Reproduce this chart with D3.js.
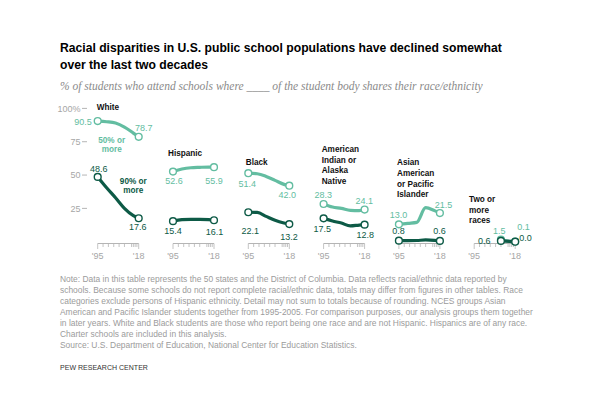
<!DOCTYPE html>
<html><head><meta charset="utf-8">
<script src="https://cdn.jsdelivr.net/npm/d3@7"></script>
<style>
html,body{margin:0;padding:0;background:#fff;}
svg{display:block;}
</style></head>
<body>
<svg id="chart" width="600" height="393"></svg>
<script>
// ---------------- data ----------------
const years = [1995, 2000, 2005, 2010, 2015, 2018];
const groups = ["White", "Hispanic", "Black", "American Indian or Alaska Native", "Asian American or Pacific Islander", "Two or more races"];
const groupTitleLines = [["White"], ["Hispanic"], ["Black"], ["American", "Indian or", "Alaska", "Native"], ["Asian", "American", "or Pacific", "Islander"], ["Two or", "more", "races"]];
// % of students in schools where 50% or more of the student body shares their race/ethnicity
const fiftyPlus = [
  [90.5, 90.0, 89.0, 86.0, 81.5, 78.7],
  [52.6, 54.5, 55.5, 55.8, 56.0, 55.9],
  [51.4, 51.0, 49.0, 46.0, 43.0, 42.0],
  [28.3, 26.0, 25.0, 23.5, 23.3, 24.1],
  [13.0, 13.8, 14.5, 25.5, 23.3, 21.5],
  [null, null, null, 1.5, 0.3, 0.1]
];
// % of students in schools where 90% or more of the student body shares their race/ethnicity
const ninetyPlus = [
  [48.6, 40.5, 33.0, 25.0, 19.5, 17.6],
  [15.4, 16.5, 16.8, 16.8, 16.5, 16.1],
  [22.1, 22.0, 19.0, 16.0, 14.0, 13.2],
  [17.5, 15.5, 14.0, 11.8, 12.5, 12.8],
  [0.8, 0.8, 0.9, 1.3, 1.0, 0.6],
  [null, null, null, 0.6, 0.2, 0.0]
];
const yTicks = [25, 50, 75, 100];
const xTickYears = [1995, 1998, 2001, 2004, 2007, 2010, 2014, 2015, 2016, 2017, 2018];
const xLabelYears = [1995, 2018];
const seriesNames = ["50% or more", "90% or more"];

const titleLines = ["Racial disparities in U.S. public school populations have declined somewhat", "over the last two decades"];
const subtitle = "% of students who attend schools where ____ of the student body shares their race/ethnicity";
const noteLines = [
  "Note: Data in this table represents the 50 states and the District of Columbia. Data reflects racial/ethnic data reported by",
  "schools. Because some schools do not report complete racial/ethnic data, totals may differ from figures in other tables. Race",
  "categories exclude persons of Hispanic ethnicity. Detail may not sum to totals because of rounding. NCES groups Asian",
  "American and Pacific Islander students together from 1995-2005. For comparison purposes, our analysis groups them together",
  "in later years. White and Black students are those who report being one race and are not Hispanic. Hispanics are of any race.",
  "Charter schools are included in this analysis.",
  "Source: U.S. Department of Education, National Center for Education Statistics."
];
const credit = "PEW RESEARCH CENTER";

// ---------------- styling / layout ----------------
const LIGHT = "#63bda1", DARK = "#0d5a46";
const SANS = "'Liberation Sans', Arial, sans-serif";
const SERIF = "'Liberation Serif', 'DejaVu Serif', Georgia, serif";
const svg = d3.select("#chart");

function fitWidth(sel, target) {
  const w = sel.node().getComputedTextLength();
  const fs = parseFloat(sel.attr("font-size"));
  sel.attr("font-size", (fs * target / w).toFixed(2));
  return fs * target / w;
}

// title
const t1 = svg.append("text").attr("x", 60).attr("y", 52).attr("font-family", SANS).attr("font-weight", "bold")
  .attr("font-size", 13).attr("fill", "#000").text(titleLines[0]);
const tfs = fitWidth(t1, 442);
svg.append("text").attr("x", 60).attr("y", 69).attr("font-family", SANS).attr("font-weight", "bold")
  .attr("font-size", tfs).attr("fill", "#000").text(titleLines[1]);
const st = svg.append("text").attr("x", 60).attr("y", 89.5).attr("font-family", SERIF).attr("font-style", "italic")
  .attr("font-size", 11).attr("fill", "#8a8a8a").text(subtitle);
fitWidth(st, 423);

// scales
const y = d3.scaleLinear().domain([0, 100]).range([241.7, 108.4]);
const panelX0 = 97.7, panelStep = 75.3, panelW = 41;
const xFor = i => d3.scaleLinear().domain([1995, 2018]).range([panelX0 + i * panelStep, panelX0 + i * panelStep + panelW]);

// y axis (first panel only)
const yAxisG = svg.append("g");
yTicks.forEach(v => {
  yAxisG.append("text").attr("x", 80.5).attr("y", y(v) + 3.2).attr("text-anchor", "end")
    .attr("font-family", SANS).attr("font-size", 9).attr("fill", "#a6a6a6").text(v === 100 ? "100%" : v);
  yAxisG.append("line").attr("x1", 82).attr("x2", 87).attr("y1", y(v)).attr("y2", y(v))
    .attr("stroke", "#b5b5b5").attr("stroke-width", 1);
});

const line = d3.line().defined(d => d.v != null).x(d => d.x).y(d => y(d.v)).curve(d3.curveMonotoneX);

// per-label placement: [dx, dy, anchor] relative to the endpoint circle
const labelPos = [
  { f: [[-6, 3.5, "end"], [5, -5.7, "middle"]], n: [[1, -4.5, "middle"], [-1, 12.2, "middle"]] },
  { f: [[1, 12.4, "middle"], [0, 16.8, "middle"]], n: [[0, 13.3, "middle"], [0.5, 14.3, "middle"]] },
  { f: [[-1, 14.3, "middle"], [-2, 11.8, "middle"]], n: [[2, 21.3, "middle"], [-0.3, 15.9, "middle"]] },
  { f: [[-0.3, -5.5, "middle"], [-0.3, -5.6, "middle"]], n: [[-1.3, 13.6, "middle"], [0.7, 13.4, "middle"]] },
  { f: [[-0.5, -6, "middle"], [3.5, -5.5, "middle"]], n: [[-0.5, -7, "middle"], [-0.5, -7.4, "middle"]] },
  { f: [[-1.7, -6.2, "middle"], [2, -11.6, "start"]], n: [[-10.5, 3.3, "end"], [4, -0.5, "start"]] }
];
const titlePos = [[96.7, 110], [168, 156], [245.8, 164.5], [321.7, 151.8], [397, 165.2], [469, 201.8]];
const titleLH = 10.7;

groups.forEach((g, i) => {
  const x = xFor(i);
  const G = svg.append("g").attr("class", "panel");
  // x axis
  G.append("line").attr("x1", x(1995)).attr("x2", x(2018)).attr("y1", 243.5).attr("y2", 243.5)
    .attr("stroke", "#b5b5b5").attr("stroke-width", 1);
  xTickYears.forEach(yr => {
    const long = (yr === 1995 || yr === 2018);
    G.append("line").attr("x1", x(yr)).attr("x2", x(yr)).attr("y1", 243.5).attr("y2", long ? 249 : 247)
      .attr("stroke", "#b5b5b5").attr("stroke-width", 0.8);
  });
  xLabelYears.forEach(yr => {
    G.append("text").attr("x", x(yr)).attr("y", 258.5).attr("text-anchor", "middle")
      .attr("font-family", SANS).attr("font-size", 9).attr("fill", "#a6a6a6").text("'" + String(yr).slice(2));
  });
  // group title
  groupTitleLines[i].forEach((ln, k) => {
    G.append("text").attr("x", titlePos[i][0]).attr("y", titlePos[i][1] + k * titleLH)
      .attr("font-family", SANS).attr("font-weight", "bold").attr("font-size", 8.2).attr("fill", "#111").text(ln);
  });
  // series
  [[fiftyPlus[i], LIGHT, "f"], [ninetyPlus[i], DARK, "n"]].forEach(([vals, col, key]) => {
    const pts = years.map((yr, k) => ({ x: x(yr), v: vals[k] }));
    G.append("path").attr("d", line(pts)).attr("fill", "none").attr("stroke", col)
      .attr("stroke-width", 3.2).attr("stroke-linecap", "round").attr("stroke-linejoin", "round");
    const valid = pts.filter(d => d.v != null);
    const ends = [valid[0], valid[valid.length - 1]];
    ends.forEach((d, e) => {
      G.append("circle").attr("cx", d.x).attr("cy", y(d.v)).attr("r", 3.4)
        .attr("fill", "#fff").attr("stroke", col).attr("stroke-width", 1.4);
      const p = labelPos[i][key][e];
      G.append("text").attr("x", d.x + p[0]).attr("y", y(d.v) + p[1]).attr("text-anchor", p[2])
        .attr("font-family", SANS).attr("font-size", 9).attr("fill", col).text(d.v.toFixed(1));
    });
  });
});

// series labels in first panel
[["50% or", "more"], ["90% or", "more"]].forEach((lines, s) => {
  const cx = s === 0 ? 111.7 : 133.3, by = s === 0 ? 142.5 : 183.5;
  lines.forEach((ln, k) => {
    svg.append("text").attr("x", cx).attr("y", by + k * 9.8).attr("text-anchor", "middle")
      .attr("font-family", SANS).attr("font-weight", "bold").attr("font-size", 8.2)
      .attr("fill", s === 0 ? LIGHT : DARK).text(ln);
  });
});

// notes
const noteSel = noteLines.map((ln, k) => svg.append("text").attr("x", 60).attr("y", 282 + k * 11)
  .attr("font-family", SANS).attr("font-size", 8).attr("fill", "#9b9b9b").text(ln));
const nfs = fitWidth(noteSel[3], 473.5);
noteSel.forEach(s => s.attr("font-size", nfs.toFixed(2)));
const cr = svg.append("text").attr("x", 60).attr("y", 370).attr("font-family", SANS).attr("font-size", 8)
  .attr("fill", "#333").text(credit);
fitWidth(cr, 88);
</script>
</body></html>
